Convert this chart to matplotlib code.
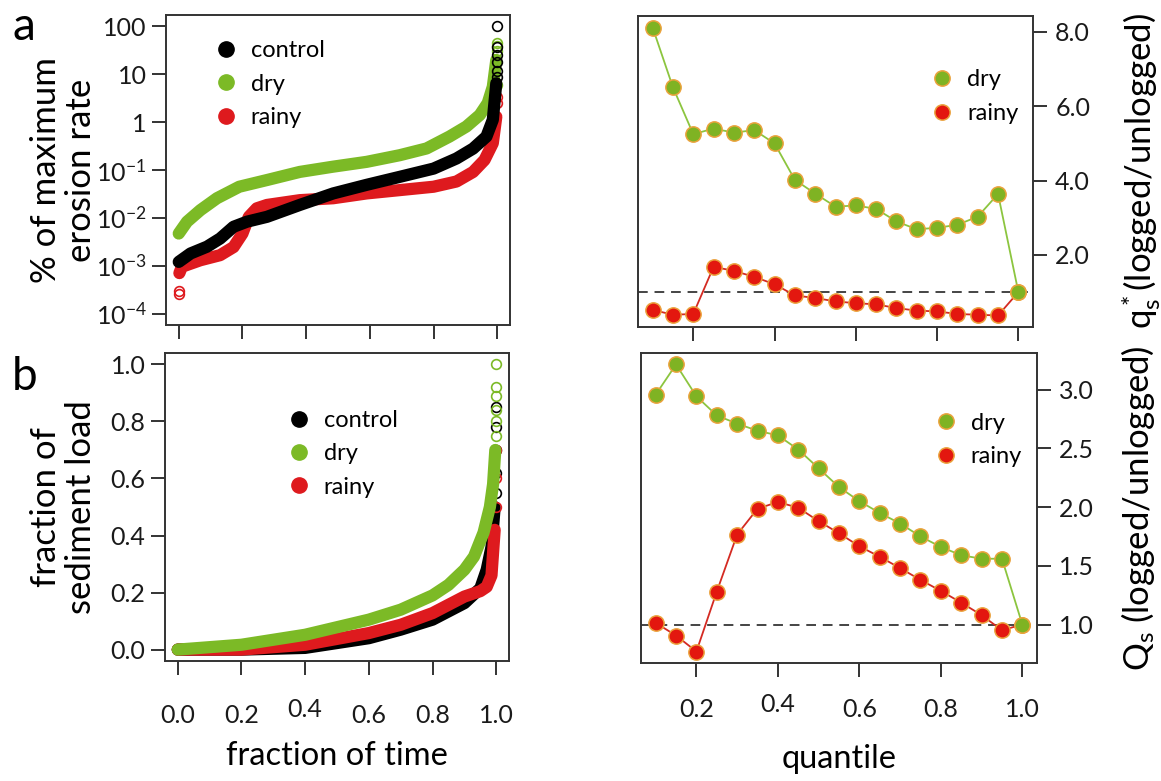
import numpy as np
import matplotlib
matplotlib.use("Agg")
import matplotlib.pyplot as plt
import matplotlib.transforms as mtransforms
from matplotlib.lines import Line2D

plt.rcParams['font.family'] = ['Lato', 'DejaVu Sans']
plt.rcParams['mathtext.fontset'] = 'custom'
plt.rcParams['mathtext.rm'] = 'Lato'
plt.rcParams['mathtext.it'] = 'Lato:italic'

# ---------------- data ----------------
# panel a (left): % of maximum erosion rate vs fraction of time (sorted curves)
a_control_x = [0.0, 0.037, 0.089, 0.13, 0.172, 0.214, 0.277, 0.38, 0.485, 0.59, 0.694, 0.80, 0.872, 0.924, 0.966, 0.986, 0.997]
a_control_y = [0.0012, 0.0018, 0.0025, 0.0037, 0.0065, 0.0083, 0.0105, 0.0186, 0.0324, 0.049, 0.072, 0.107, 0.174, 0.28, 0.50, 1.12, 6.5]
a_control_out_x = [1.0, 1.0, 1.0, 1.0, 1.0, 1.0]
a_control_out_y = [100, 38, 25, 18, 12, 9]

a_dry_x = [0.0, 0.026, 0.068, 0.12, 0.19, 0.277, 0.38, 0.485, 0.59, 0.694, 0.778, 0.85, 0.903, 0.945, 0.97, 0.986, 0.997]
a_dry_y = [0.0047, 0.0083, 0.0145, 0.0257, 0.0447, 0.0617, 0.0912, 0.1175, 0.148, 0.204, 0.282, 0.50, 0.81, 1.41, 2.5, 5.5, 20]
a_dry_out_x = [1.0, 1.0, 1.0, 1.0]
a_dry_out_y = [45, 40, 30, 6]

a_rainy_x = [0.002, 0.01, 0.068, 0.13, 0.172, 0.2, 0.22, 0.245, 0.277, 0.38, 0.485, 0.59, 0.694, 0.80, 0.872, 0.924, 0.96, 0.986, 0.997]
a_rainy_y = [0.0007, 0.00095, 0.0013, 0.00166, 0.00245, 0.0047, 0.0105, 0.0158, 0.0186, 0.0234, 0.0257, 0.0324, 0.038, 0.0447, 0.0575, 0.091, 0.162, 0.363, 1.3]
a_rainy_out_x = [0.0, 0.0, 1.0, 1.0]
a_rainy_out_y = [0.00026, 0.0003, 3.4, 2.5]

# panel b (left): fraction of sediment load vs fraction of time
b_control_x = [0.0, 0.2, 0.4, 0.6, 0.7, 0.8, 0.9, 0.95, 0.97, 0.985, 0.995]
b_control_y = [0.0, 0.0, 0.006, 0.04, 0.07, 0.105, 0.163, 0.215, 0.28, 0.36, 0.50]
b_control_out_x = [1.0, 1.0, 1.0, 1.0, 1.0]
b_control_out_y = [0.55, 0.62, 0.70, 0.78, 0.85]

b_dry_x = [0.0, 0.2, 0.4, 0.6, 0.7, 0.8, 0.85, 0.9, 0.93, 0.96, 0.98, 0.99, 0.997]
b_dry_y = [0.0, 0.017, 0.052, 0.105, 0.14, 0.19, 0.227, 0.28, 0.326, 0.41, 0.50, 0.58, 0.70]
b_dry_out_x = [1.0, 1.0, 1.0, 1.0, 1.0, 1.0]
b_dry_out_y = [0.75, 0.80, 0.84, 0.89, 0.92, 1.0]

b_rainy_x = [0.0, 0.2, 0.4, 0.6, 0.7, 0.8, 0.9, 0.95, 0.97, 0.985, 0.995]
b_rainy_y = [0.0, 0.0, 0.017, 0.058, 0.087, 0.128, 0.186, 0.205, 0.22, 0.26, 0.42]
b_rainy_out_x = [1.0, 1.0, 1.0]
b_rainy_out_y = [0.50, 0.60, 0.70]

# right panels: ratios by quantile
quantile = [0.10, 0.15, 0.20, 0.25, 0.30, 0.35, 0.40, 0.45, 0.50, 0.55,
            0.60, 0.65, 0.70, 0.75, 0.80, 0.85, 0.90, 0.95, 1.00]
qs_dry = [8.12, 6.51, 5.25, 5.40, 5.29, 5.36, 5.00, 4.02, 3.65, 3.30,
          3.33, 3.24, 2.90, 2.69, 2.73, 2.81, 3.03, 3.64, 1.00]
qs_rainy = [0.52, 0.39, 0.41, 1.68, 1.57, 1.41, 1.21, 0.91, 0.84, 0.75,
            0.70, 0.67, 0.57, 0.50, 0.48, 0.41, 0.39, 0.37, 1.00]
Qs_dry = [2.957, 3.214, 2.943, 2.78, 2.71, 2.65, 2.61, 2.49, 2.33, 2.17,
          2.05, 1.95, 1.86, 1.75, 1.66, 1.59, 1.56, 1.56, 1.00]
Qs_rainy = [1.014, 0.906, 0.77, 1.28, 1.766, 1.986, 2.043, 1.994, 1.88, 1.777,
            1.666, 1.577, 1.48, 1.38, 1.286, 1.186, 1.08, 0.951, 1.00]

left_xticks = [0.0, 0.2, 0.4, 0.6, 0.8, 1.0]
a_yticks = [1e-4, 1e-3, 1e-2, 1e-1, 1, 10, 100]
a_yticklabels = [r'$\mathregular{10^{-4}}$', r'$\mathregular{10^{-3}}$', r'$\mathregular{10^{-2}}$',
                 r'$\mathregular{10^{-1}}$', '1', '10', '100']
b_yticks = [0.0, 0.2, 0.4, 0.6, 0.8, 1.0]
right_xticks = [0.2, 0.4, 0.6, 0.8, 1.0]
qs_yticks = [2.0, 4.0, 6.0, 8.0]
Qs_yticks = [1.0, 1.5, 2.0, 2.5, 3.0]

# ---------------- style ----------------
C_BLACK = '#000000'
C_GREEN = '#7cba26'
C_RED = '#de1a1e'
M_GREEN = '#7fb323'
M_RED = '#e3170f'
M_EDGE = '#eba23c'
L_GREEN = '#8cc53f'
L_RED = '#d42a22'
FRAME = '#333333'

W, H = 1161, 781
fig = plt.figure(figsize=(W / 100, H / 100), dpi=100)


def ax_px(l, t, r, b):
    return fig.add_axes([l / W, 1 - b / H, (r - l) / W, (b - t) / H])


TL = (166, 15, 510, 325)
BL = (165, 353, 509, 661)
TR = (638, 16, 1033, 327)
BR = (641, 353, 1037, 663)
ax_tl = ax_px(*TL)
ax_bl = ax_px(*BL)
ax_tr = ax_px(*TR)
ax_br = ax_px(*BR)

TICK_FS = 18
XLAB_FS = 23.5
YLAB_FS = 25
LEG_FS = 17


def style(ax):
    for s in ax.spines.values():
        s.set_color(FRAME)
        s.set_linewidth(1.4)
    ax.tick_params(direction='out', length=10, width=1.4, color=FRAME,
                   labelsize=TICK_FS, labelcolor='#1a1a1a')


def r_range(vals, frac=0.04):
    lo, hi = min(vals), max(vals)
    d = (hi - lo) * frac
    return lo - d, hi + d


def xfrac(box, px):
    return (px - box[0]) / (box[2] - box[0])


def yfrac(box, py):
    return (box[3] - py) / (box[3] - box[1])


BAND_LW = 8.8
OPEN_MS = 7


def band(ax, x, y, color, z):
    ax.plot(x, y, color=color, lw=BAND_LW, solid_capstyle='round',
            solid_joinstyle='round', zorder=z)


def opens(ax, x, y, color, z):
    ax.plot(x, y, linestyle='none', marker='o', ms=OPEN_MS, mfc='none',
            mec=color, mew=1.2, zorder=z)


LEG_KW = dict(loc='upper left', frameon=False, fontsize=LEG_FS, handlelength=1.0,
              handletextpad=0.55, labelspacing=0.52, borderpad=0, borderaxespad=0)

# ----- panel a left -----
ax = ax_tl
band(ax, a_rainy_x, a_rainy_y, C_RED, 2)
opens(ax, a_rainy_out_x, a_rainy_out_y, C_RED, 2)
band(ax, a_dry_x, a_dry_y, C_GREEN, 3)
opens(ax, a_dry_out_x, a_dry_out_y, C_GREEN, 3)
band(ax, a_control_x, a_control_y, C_BLACK, 4)
opens(ax, a_control_out_x, a_control_out_y, C_BLACK, 4)
ax.set_yscale('log')
ax.set_xlim(-0.04, 1.04)
ax.set_ylim(10 ** -4.24, 10 ** 2.24)
ax.set_yticks(a_yticks)
ax.set_yticklabels(a_yticklabels)
ax.minorticks_off()
ax.set_xticks(left_xticks)
ax.set_xticklabels([])
style(ax)
ax.tick_params(axis='y', pad=4)
ax.set_ylabel('% of maximum\nerosion rate', fontsize=YLAB_FS, linespacing=1.1)
ax.yaxis.set_label_coords(xfrac(TL, 97), 0.5)
h = [Line2D([], [], ls='none', marker='o', ms=11, color=c) for c in (C_BLACK, C_GREEN, C_RED)]
ax.legend(h, ['control', 'dry', 'rainy'], bbox_to_anchor=(0.14, 0.918), **LEG_KW)

# ----- panel b left -----
ax = ax_bl
band(ax, b_control_x, b_control_y, C_BLACK, 2)
opens(ax, b_control_out_x, b_control_out_y, C_BLACK, 2)
band(ax, b_rainy_x, b_rainy_y, C_RED, 3)
opens(ax, b_rainy_out_x, b_rainy_out_y, C_RED, 3)
band(ax, b_dry_x, b_dry_y, C_GREEN, 4)
opens(ax, b_dry_out_x, b_dry_out_y, C_GREEN, 4)
ax.set_xlim(-0.04, 1.04)
ax.set_ylim(-0.04, 1.04)
ax.set_xticks(left_xticks)
ax.set_xticklabels([f'{v:.1f}' for v in left_xticks])
ax.set_yticks(b_yticks)
ax.set_yticklabels([f'{v:.1f}' for v in b_yticks])
style(ax)
ax.tick_params(axis='x', pad=21)
ax.tick_params(axis='y', pad=4)
ax.set_xlabel('fraction of time', fontsize=XLAB_FS)
ax.xaxis.set_label_coords(0.5, yfrac(BL, 741))
ax.set_ylabel('fraction of\nsediment load', fontsize=YLAB_FS, linespacing=1.1)
ax.yaxis.set_label_coords(xfrac(BL, 97), 0.5)
ax.legend(h, ['control', 'dry', 'rainy'], bbox_to_anchor=(0.355, 0.815), **LEG_KW)


# ----- right panels -----
def ratio_panel(ax, dry, rainy):
    ax.axhline(1.0, color='#444444', lw=1.4, ls=(0, (5, 3.5)), zorder=1)
    ax.plot(quantile, rainy, color=L_RED, lw=1.3, marker='o', ms=11, mfc=M_RED,
            mec=M_EDGE, mew=1.1, zorder=2)
    ax.plot(quantile, dry, color=L_GREEN, lw=1.3, marker='o', ms=11, mfc=M_GREEN,
            mec=M_EDGE, mew=1.1, zorder=3)
    ax.set_xlim(*r_range(quantile))
    ax.set_ylim(*r_range(dry + rainy))
    ax.yaxis.tick_right()
    ax.yaxis.set_label_position('right')
    ax.set_xticks(right_xticks)
    style(ax)
    ax.tick_params(axis='y', pad=6)
    hh = [Line2D([], [], ls='none', marker='o', ms=11, mfc=M_GREEN, mec=M_EDGE, mew=1.1),
          Line2D([], [], ls='none', marker='o', ms=11, mfc=M_RED, mec=M_EDGE, mew=1.1)]
    return hh


ax = ax_tr
hh = ratio_panel(ax, qs_dry, qs_rainy)
ax.set_xticklabels([])
ax.set_yticks(qs_yticks)
ax.set_yticklabels([f'{v:.1f}' for v in qs_yticks])
ax.set_ylabel(r'$\mathregular{q_s^*}$(logged/unlogged)', fontsize=YLAB_FS)
ax.yaxis.set_label_coords(xfrac(TR, 1119), 0.5)
ax.legend(hh, ['dry', 'rainy'], bbox_to_anchor=(0.74, 0.828), **LEG_KW)

ax = ax_br
hh = ratio_panel(ax, Qs_dry, Qs_rainy)
ax.set_xticklabels([f'{v:.1f}' for v in right_xticks])
ax.tick_params(axis='x', pad=15)
ax.set_yticks(Qs_yticks)
ax.set_yticklabels([f'{v:.1f}' for v in Qs_yticks])
ax.set_ylabel(r'$\mathregular{Q_s}$ (logged/unlogged)', fontsize=YLAB_FS)
ax.yaxis.set_label_coords(xfrac(BR, 1119), 0.5)
ax.set_xlabel('quantile', fontsize=XLAB_FS)
ax.xaxis.set_label_coords(0.5, yfrac(BR, 744))
ax.legend(hh, ['dry', 'rainy'], bbox_to_anchor=(0.74, 0.808), **LEG_KW)

# the "0.4" tick labels sit slightly higher than their neighbours in the original
for a_, idx, dy in ((ax_bl, 2, 6), (ax_br, 1, 5)):
    lab = a_.get_xticklabels()[idx]
    lab.set_transform(lab.get_transform() +
                      mtransforms.ScaledTranslation(0, dy / 100, fig.dpi_scale_trans))

fig.text(12 / W, 1 - 40 / H, 'a', fontsize=33, va='baseline', ha='left')
fig.text(12 / W, 1 - 390 / H, 'b', fontsize=33, va='baseline', ha='left')

fig.savefig('out.png', dpi=100, facecolor='white')
